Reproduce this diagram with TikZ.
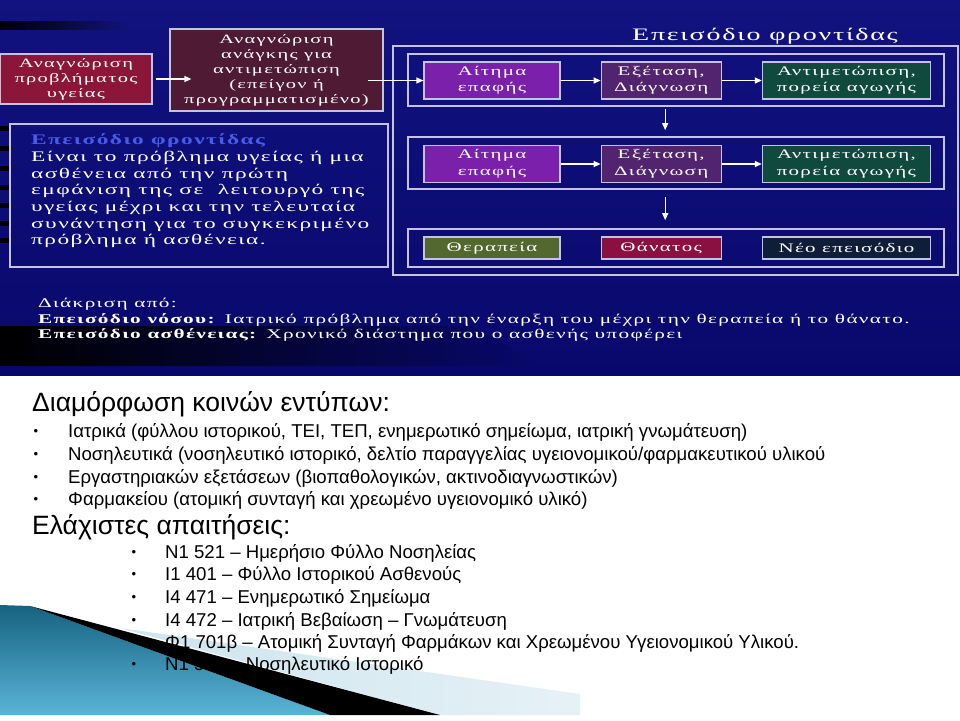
\documentclass[tikz,border=0pt]{standalone}
\usepackage{fontspec}
\setmainfont{Liberation Serif}
\newfontfamily\slidefont[FakeStretch=1.6,LetterSpace=10]{Liberation Serif}
\newfontfamily\listfont{Liberation Sans}
\usetikzlibrary{arrows.meta,positioning}

\definecolor{panelblue}{RGB}{8,8,108}
\definecolor{paneltop}{RGB}{18,18,128}
\definecolor{probred}{RGB}{140,22,58}
\definecolor{needred}{RGB}{78,26,52}
\definecolor{reqviolet}{RGB}{122,32,170}
\definecolor{exampurple}{RGB}{82,36,112}
\definecolor{treatgreen}{RGB}{16,74,60}
\definecolor{cureolive}{RGB}{82,104,46}
\definecolor{deathred}{RGB}{138,16,66}
\definecolor{newnavy}{RGB}{14,30,56}
\definecolor{framegray}{RGB}{196,196,226}
\definecolor{headblue}{RGB}{72,92,235}
\definecolor{swtealdark}{RGB}{22,98,128}
\definecolor{swteallight}{RGB}{90,180,215}
\definecolor{swpale}{RGB}{205,228,238}

\tikzset{
  slide/.style={x=1pt,y=-1pt},
  box/.style={draw=framegray, line width=1.2pt, text=white, align=center,
    inner sep=0pt, font=\slidefont\fontsize{12.8}{15}\selectfont},
  rowbox/.style={box, font=\slidefont\fontsize{13.1}{16.5}\selectfont},
  frame/.style={draw=framegray, line width=1.6pt, inner sep=0pt},
  flow/.style={draw=white, line width=1.3pt, -{Triangle[length=7pt,width=6pt]}},
  paneltext/.style={anchor=west, text=white, align=left, inner sep=0pt},
  listtext/.style={anchor=west, inner sep=0pt, font=\listfont\fontsize{18.6}{21}\selectfont},
  bullet/.style={inner sep=0pt, font=\listfont\fontsize{13}{15}\selectfont},
}

\begin{document}
\begin{tikzpicture}[slide]
  \useasboundingbox (0,0) rectangle (960,720);
  % dark slide panel
  \shade[top color=paneltop, bottom color=panelblue] (0,0) rectangle (960,375);
  \shade[left color=black, right color=panelblue] (0,326) -- (470,326) -- (545,366) -- (0,366) -- cycle;
  \shade[left color=black, right color=paneltop] (0,21) rectangle (130,29);
  \foreach \y in {126,146,166,185,203,221,238}
    \fill[black] (0,\y) rectangle (11,\y+5);

  % swoosh bottom left
  \shade[left color=swpale, right color=white!50!swpale] (120,628) -- (580,694) -- (580,715) -- (440,715) -- cycle;
  \shade[top color=swtealdark, bottom color=swteallight] (0,605) -- (30,606) -- (330,715) -- (0,715) -- cycle;
  \fill[black] (30,606) -- (440,715) -- (330,715) -- cycle;

  % left part
  \node[box, fill=probred, minimum width=152pt, minimum height=50pt] (prob) at (76,79)
    {Αναγνώριση\\προβλήματος\\υγείας};
  \node[box, fill=needred, minimum width=213pt, minimum height=82pt] (need) at (276.5,70)
    {Αναγνώριση\\ανάγκης για\\αντιμετώπιση\\(επείγον ή\\προγραμματισμένο)};
  \draw[flow, shorten <=3pt, shorten >=-22pt] (prob.east) -- (prob.east -| need.west);
  \node[frame, minimum width=378pt, minimum height=143pt] (defbox) at (199,195.5) {};
  \node[paneltext, font=\slidefont\fontsize{14.6}{16.7}\selectfont] (deftext) at (31,191)
    {\textcolor{headblue}{\textbf{Επεισόδιο φροντίδας}}\\
     Είναι το πρόβλημα υγείας ή μια\\
     ασθένεια από την πρώτη\\
     εμφάνιση της σε~ λειτουργό της\\
     υγείας μέχρι και την τελευταία\\
     συνάντηση για το συγκεκριμένο\\
     πρόβλημα ή ασθένεια.};

  % episode of care
  \node[frame, minimum width=565pt, minimum height=229pt] (ep) at (675.5,160.5) {};
  \node[text=white, inner sep=0pt, font=\slidefont\fontsize{17.5}{20}\selectfont] (eptitle) at (765,36)
    {Επεισόδιο φροντίδας};
  \node[frame, minimum width=536pt, minimum height=52pt] (f1) at (676,80) {};
  \node[frame, minimum width=536pt, minimum height=52pt] (f2) at (676,163) {};
  \node[frame, minimum width=536pt, minimum height=38pt] (f3) at (676,248) {};

  \node[rowbox, fill=reqviolet, minimum width=136pt, minimum height=37pt] (a1) at (492,80.5) {Αίτημα\\επαφής};
  \node[rowbox, fill=exampurple, minimum width=120pt, minimum height=37pt, right=40pt of a1] (e1) {Εξέταση,\\Διάγνωση};
  \node[rowbox, fill=treatgreen, minimum width=168pt, minimum height=37pt, right=40pt of e1] (t1) {Αντιμετώπιση,\\πορεία αγωγής};
  \node[rowbox, fill=reqviolet, minimum width=136pt, minimum height=37pt] (a2) at (492,164) {Αίτημα\\επαφής};
  \node[rowbox, fill=exampurple, minimum width=120pt, minimum height=37pt, right=40pt of a2] (e2) {Εξέταση,\\Διάγνωση};
  \node[rowbox, fill=treatgreen, minimum width=168pt, minimum height=37pt, right=40pt of e2] (t2) {Αντιμετώπιση,\\πορεία αγωγής};
  \node[rowbox, fill=cureolive, minimum width=136pt, minimum height=22pt] (cure) at (492,248) {Θεραπεία};
  \node[rowbox, fill=deathred, minimum width=120pt, minimum height=22pt, right=40pt of cure] (death) {Θάνατος};
  \node[rowbox, fill=newnavy, minimum width=168pt, minimum height=22pt, right=40pt of death] (newep) {Νέο επεισόδιο};

  \draw[flow, shorten <=-16pt] (need.east |- a1.west) -- (a1.west);
  \draw[flow] (a1) -- (e1);
  \draw[flow] (e1) -- (t1);
  \draw[flow] (a2) -- (e2);
  \draw[flow] (e2) -- (t2);
  \draw[flow, shorten <=2pt, shorten >=6pt] ([xshift=4pt]e1.south |- f1.south) -- ([xshift=4pt]e1.south |- f2.north);
  \draw[flow, shorten <=7pt, shorten >=8pt] ([xshift=4pt]e2.south |- f2.south) -- ([xshift=4pt]e2.south |- f3.north);

  \node[paneltext, font=\slidefont\fontsize{13.3}{15.5}\selectfont] (dist) at (38,320)
    {Διάκριση από:\\
     \textbf{Επεισόδιο νόσου:} Ιατρικό πρόβλημα από την έναρξη του μέχρι την θεραπεία ή το θάνατο.\\
     \textbf{Επεισόδιο ασθένειας:} Χρονικό διάστημα που ο ασθενής υποφέρει};

  % forms
  \node[anchor=west, inner sep=0pt, font=\listfont\fontsize{26.5}{28}\selectfont] (forms) at (32,404)
    {Διαμόρφωση κοινών εντύπων:};
  \node[bullet] (b1) at (36,432) {•};
  \node[listtext] (it1) at (68,432) {Ιατρικά (φύλλου ιστορικού, ΤΕΙ, ΤΕΠ, ενημερωτικό σημείωμα, ιατρική γνωμάτευση)};
  \node[bullet] (b2) at (36,455) {•};
  \node[listtext] (it2) at (68,455) {Νοσηλευτικά (νοσηλευτικό ιστορικό, δελτίο παραγγελίας υγειονομικού/φαρμακευτικού υλικού};
  \node[bullet] (b3) at (36,478) {•};
  \node[listtext] (it3) at (68,478) {Εργαστηριακών εξετάσεων (βιοπαθολογικών, ακτινοδιαγνωστικών)};
  \node[bullet] (b4) at (36,500) {•};
  \node[listtext] (it4) at (68,500) {Φαρμακείου (ατομική συνταγή και χρεωμένο υγειονομικό υλικό)};

  \node[anchor=west, inner sep=0pt, font=\listfont\fontsize{26.5}{28}\selectfont] (req) at (32,527)
    {Ελάχιστες απαιτήσεις:};
  \node[bullet] (c1) at (134,553) {•};
  \node[listtext] (r1) at (165,553) {Ν1 521 – Ημερήσιο Φύλλο Νοσηλείας};
  \node[bullet] (c2) at (134,575) {•};
  \node[listtext] (r2) at (165,575) {Ι1 401 – Φύλλο Ιστορικού Ασθενούς};
  \node[bullet] (c3) at (134,598) {•};
  \node[listtext] (r3) at (165,598) {Ι4 471 – Ενημερωτικό Σημείωμα};
  \node[bullet] (c4) at (134,621) {•};
  \node[listtext] (r4) at (165,621) {Ι4 472 – Ιατρική Βεβαίωση – Γνωμάτευση};
  \node[bullet] (c5) at (134,643) {•};
  \node[listtext] (r5) at (165,643) {Φ1 701β – Ατομική Συνταγή Φαρμάκων και Χρεωμένου Υγειονομικού Υλικού.};
  \node[bullet] (c6) at (134,665) {•};
  \node[listtext] (r6) at (165,665) {Ν1 501 – Νοσηλευτικό Ιστορικό};
\end{tikzpicture}
\end{document}
